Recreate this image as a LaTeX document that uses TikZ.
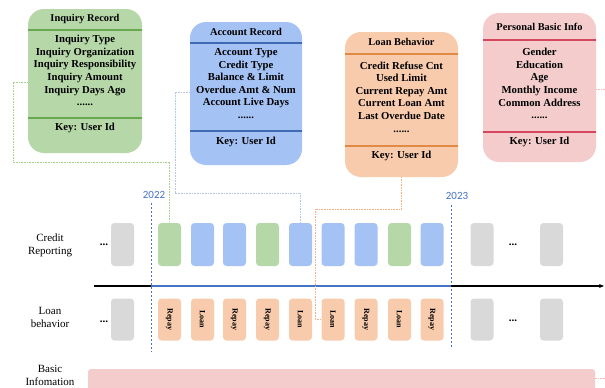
\documentclass[tikz,border=0pt]{standalone}
\usepackage{fontspec}
\setmainfont{Liberation Serif}
\newfontfamily\yearfont{Carlito}
\usetikzlibrary{arrows.meta}
\definecolor{grnfill}{HTML}{B6D7A8}
\definecolor{grnline}{HTML}{6AA84F}
\definecolor{grnconn}{HTML}{A9D18E}
\definecolor{blufill}{HTML}{A4C2F4}
\definecolor{bluline}{HTML}{3D6AB3}
\definecolor{bluconn}{HTML}{B4C7E7}
\definecolor{orgfill}{HTML}{F8CBAD}
\definecolor{orgline}{HTML}{E08A45}
\definecolor{orgconn}{HTML}{F4B183}
\definecolor{pnkfill}{HTML}{F4CCCC}
\definecolor{pnkline}{HTML}{D5475E}
\definecolor{pnkconn}{HTML}{F4B6B6}
\definecolor{grayfill}{HTML}{D9D9D9}
\definecolor{yearblue}{HTML}{4472C4}
\begin{document}
\begin{tikzpicture}[x=1pt, y=-1pt,
    recbox/.style={rounded corners=16pt, inner sep=0pt},
    rectitle/.style={font=\fontsize{10.4}{12}\selectfont\bfseries},
    recbody/.style={align=center, font=\fontsize{10.7}{12.6}\selectfont\bfseries},
    reckey/.style={font=\fontsize{10.7}{12.6}\selectfont\bfseries},
    sepline/.style={line width=1.6pt},
    evbox/.style={rounded corners=3.5pt, minimum width=23pt, minimum height=43pt, inner sep=0pt, font=\fontsize{8}{9}\selectfont\bfseries},
    rowlabel/.style={align=center, font=\fontsize{11}{13}\selectfont},
    rowdots/.style={font=\fontsize{11}{13}\selectfont\bfseries, inner sep=1pt},
    conn/.style={line width=0.6pt, dash pattern=on 0.8pt off 0.8pt},
    year/.style={text=yearblue, font=\yearfont\fontsize{11}{13}\selectfont},
    yearline/.style={yearblue, line width=0.6pt, dash pattern=on 2pt off 2pt}]
  \useasboundingbox (0,0) rectangle (605,388);

  % Inquiry Record
  \node[recbox, fill=grnfill, minimum width=114pt, minimum height=144pt] (inq) at (85,81) {};
  \node[rectitle] (inqt) at (85,19) {Inquiry Record};
  \draw[sepline, grnline] (inq.west |- 0,30) -- (inq.east |- 0,30);
  \node[recbody] (inqb) at (85,70.5) {Inquiry Type\\Inquiry Organization\\Inquiry Responsibility\\Inquiry Amount\\Inquiry Days Ago\\......};
  \draw[sepline, grnline] (inq.west |- 0,118) -- (inq.east |- 0,118);
  \node[reckey] (inqk) at (85,128) {Key: User Id};

  % Account Record
  \node[recbox, fill=blufill, minimum width=112pt, minimum height=143pt] (acc) at (246,93.5) {};
  \node[rectitle] (acct) at (246,32) {Account Record};
  \draw[sepline, bluline] (acc.west |- 0,43) -- (acc.east |- 0,43);
  \node[recbody] (accb) at (246,83.5) {Account Type\\Credit Type\\Balance \& Limit\\Overdue Amt \& Num\\Account Live Days\\......};
  \draw[sepline, bluline] (acc.west |- 0,131) -- (acc.east |- 0,131);
  \node[reckey] (acck) at (246,142) {Key: User Id};

  % Loan Behavior
  \node[recbox, fill=orgfill, minimum width=113pt, minimum height=145pt] (loan) at (401.5,104.5) {};
  \node[rectitle] (loant) at (401.5,42) {Loan Behavior};
  \draw[sepline, orgline] (loan.west |- 0,54) -- (loan.east |- 0,54);
  \node[recbody] (loanb) at (401.5,97) {Credit Refuse Cnt\\Used Limit\\Current Repay Amt\\Current Loan Amt\\Last Overdue Date\\......};
  \draw[sepline, orgline] (loan.west |- 0,146) -- (loan.east |- 0,146);
  \node[reckey] (loank) at (401.5,156) {Key: User Id};

  % Personal Basic Info
  \node[recbox, fill=pnkfill, minimum width=113pt, minimum height=149pt] (per) at (539.5,87.5) {};
  \node[rectitle] (pert) at (539.5,27) {Personal Basic Info};
  \draw[sepline, pnkline] (per.west |- 0,40) -- (per.east |- 0,40);
  \node[recbody] (perb) at (539.5,83.5) {Gender\\Education\\Age\\Monthly Income\\Common Address\\......};
  \draw[sepline, pnkline] (per.west |- 0,132) -- (per.east |- 0,132);
  \node[reckey] (perk) at (539.5,142) {Key: User Id};

  % years
  \node[year] (y22) at (154,195) {2022};
  \node[year] (y23) at (457,196) {2023};
  \draw[yearline] (151,203) -- (151,352);
  \draw[yearline] (451,205) -- (451,347);

  % time axis
  \coordinate (ax0) at (94,286);
  \coordinate (ax1) at (604,286);
  \draw[line width=1.2pt, -{Stealth[length=5pt, width=4pt]}] (ax0) -- (ax1);
  \draw[line width=1.5pt, yearblue] (151,286) -- (451,286);

  % row labels
  \node[rowlabel] (crlab) at (50,245) {Credit\\Reporting};
  \node[rowlabel] (lblab) at (50,317) {Loan\\behavior};
  \node[rowlabel] (bilab) at (50,375) {Basic\\Infomation};

  % credit reporting row
  \foreach \x/\c [count=\i] in {122.5/grayfill, 169.5/grnfill, 202.5/blufill, 234.5/blufill, 267.5/grnfill, 300.5/blufill, 333/blufill, 366/blufill, 399.5/grnfill, 432/blufill, 482/grayfill, 551.5/grayfill}
    \node[evbox, fill=\c] (cr\i) at (\x,244.5) {};
  \node[rowdots] (crdots) at (104,245) {...};
  \node[rowdots] (crdots2) at (513,245) {...};

  % loan behavior row
  \foreach \x/\c/\t [count=\i] in {122.5/grayfill/{}, 169.5/orgfill/Repay, 202.5/orgfill/Loan, 234.5/orgfill/Repay, 267.5/orgfill/Repay, 300.5/orgfill/Loan, 333/orgfill/Loan, 366/orgfill/Repay, 399.5/orgfill/Loan, 432/orgfill/Repay, 482/grayfill/{}, 551.5/grayfill/{}}
    \node[evbox, fill=\c, minimum height=42pt] (lb\i) at (\x,319.5) {\rotatebox{-90}{\t}};
  \node[rowdots] (lbdots) at (104,322) {...};
  \node[rowdots] (lbdots2) at (513,321) {...};

  % basic information bar
  \node[fill=pnkfill, rounded corners=3pt, minimum width=507pt, minimum height=26pt, inner sep=0pt] (bar) at (341.5,382) {};

  % links from records to events
  \draw[conn, grnconn] (inq.west |- 0,82) -| (13,162) -| (cr2.north);
  \draw[conn, bluconn] (acc.west |- 0,92) -| (175,193) -| (cr6.north);
  \draw[conn, orgconn] (loan.south) |- (315,209) |- (lb7.west);
  \draw[conn, pnkconn] (per.east |- 0,89) -| (609,378) -- (bar.east |- 0,378);
\end{tikzpicture}
\end{document}
